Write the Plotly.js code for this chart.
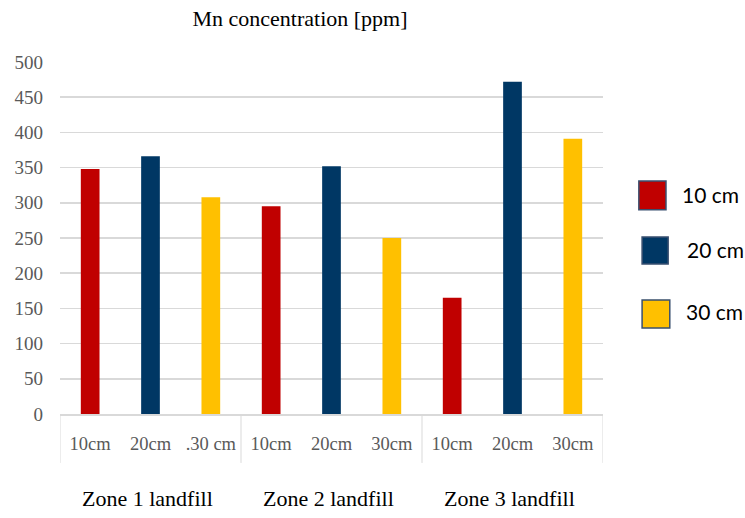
<!DOCTYPE html>
<html>
<head>
<meta charset="utf-8">
<script src="https://cdn.plot.ly/plotly-3.0.1.min.js"></script>
<style>html,body{margin:0;padding:0;background:#fff;}#chart{width:745px;height:518px;}</style>
</head>
<body>
<div id="chart"></div>
<script>
// ---- data ----
const zones = ['Zone 1 landfill', 'Zone 2 landfill', 'Zone 3 landfill'];
const depthTickLabels = ['10cm', '20cm', '.30 cm', '10cm', '20cm', '30cm', '10cm', '20cm', '30cm'];
const seriesNames = ['10 cm', '20 cm', '30 cm'];
const values10 = [348, 295, 165];
const values20 = [366, 352, 472];
const values30 = [308, 250, 391];
const yTicks = [0, 50, 100, 150, 200, 250, 300, 350, 400, 450, 500];
const titleText = 'Mn concentration [ppm]';

// ---- styles ----
const colors = ['#C00000', '#003764', '#FFC000'];
const seriesValues = [values10, values20, values30];
const SERIF = 'serif';

const traces = seriesValues.map((vals, k) => ({
  type: 'bar',
  name: seriesNames[k],
  x: zones.map((z, zi) => zi * seriesValues.length + k),
  y: vals,
  width: 0.31,
  marker: {color: colors[k]},
  showlegend: false,
  hoverinfo: 'y'
}));

const nCats = depthTickLabels.length;
const shapes = [];
for (let zi = 0; zi <= zones.length; zi++) {
  shapes.push({type: 'line', xref: 'x', yref: 'paper',
    x0: zi * 3 - 0.5, x1: zi * 3 - 0.5, y0: 0, y1: -0.139,
    line: {color: '#D9D9D9', width: 1}});
}
const legendBoxes = [
  {x0: 1.066, x1: 1.116, y0: 0.580, y1: 0.662, tx: 1.142, ty: 0.625},
  {x0: 1.072, x1: 1.120, y0: 0.426, y1: 0.503, tx: 1.151, ty: 0.466},
  {x0: 1.072, x1: 1.123, y0: 0.244, y1: 0.324, tx: 1.149, ty: 0.290}
];
const annotations = [];
legendBoxes.forEach((b, k) => {
  shapes.push({type: 'rect', xref: 'paper', yref: 'paper',
    x0: b.x0, x1: b.x1, y0: b.y0, y1: b.y1,
    fillcolor: colors[k], line: {color: '#3A5070', width: 1.5}});
  annotations.push({xref: 'paper', yref: 'paper', x: b.tx, y: b.ty,
    xanchor: 'left', yanchor: 'middle', showarrow: false,
    text: seriesNames[k], font: {family: 'Lato', size: 21, color: '#000'}});
});
zones.forEach((z, zi) => {
  annotations.push({xref: 'x', yref: 'paper', x: zi * 3 + 0.95, y: -0.241,
    xanchor: 'center', yanchor: 'middle', showarrow: false,
    text: z, font: {family: SERIF, size: 22, color: '#000'}});
});

const layout = {
  width: 745, height: 518,
  margin: {l: 60, r: 142, t: 62, b: 104},
  paper_bgcolor: '#fff', plot_bgcolor: '#fff',
  title: {text: titleText, x: 300 / 745, xanchor: 'center', xref: 'container',
    y: 1 - 18 / 518, yanchor: 'middle', yref: 'container',
    font: {family: SERIF, size: 22, color: '#000'}},
  barmode: 'overlay',
  xaxis: {
    range: [-0.5, nCats - 0.5],
    tickmode: 'array',
    tickvals: depthTickLabels.map((t, i) => i),
    ticktext: depthTickLabels,
    tickfont: {family: SERIF, size: 18.5, color: '#595959'},
    ticks: '', ticklabelstandoff: 12,
    showgrid: false, zeroline: false,
    showline: true, linecolor: '#D9D9D9', linewidth: 1.5
  },
  yaxis: {
    range: [0, 500],
    tickmode: 'array',
    tickvals: yTicks,
    ticktext: yTicks.map(String),
    tickfont: {family: SERIF, size: 19, color: '#595959'},
    ticks: '', ticklabelstandoff: 16,
    showgrid: true, gridcolor: '#D9D9D9', gridwidth: 1.5,
    zeroline: false, showline: false
  },
  shapes: shapes,
  annotations: annotations
};

Plotly.newPlot('chart', traces, layout, {displayModeBar: false, staticPlot: true});
</script>
</body>
</html>
